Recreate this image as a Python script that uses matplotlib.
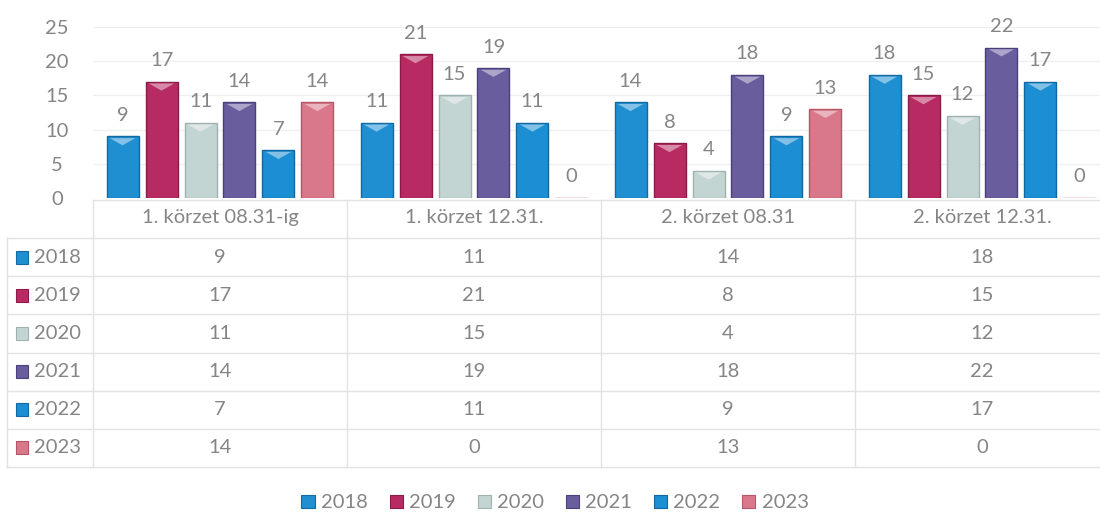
import matplotlib
matplotlib.use("Agg")
import matplotlib.pyplot as plt
import numpy as np
from matplotlib.patches import Rectangle, Polygon

plt.rcParams['font.family'] = ['Lato', 'DejaVu Sans']

categories = ['1. körzet 08.31-ig', '1. körzet 12.31.', '2. körzet 08.31', '2. körzet 12.31.']
years = ['2018', '2019', '2020', '2021', '2022', '2023']
v2018 = [9, 11, 14, 18]
v2019 = [17, 21, 8, 15]
v2020 = [11, 15, 4, 12]
v2021 = [14, 19, 18, 22]
v2022 = [7, 11, 9, 17]
v2023 = [14, 0, 13, 0]
series = [v2018, v2019, v2020, v2021, v2022, v2023]
colors = ['#1f8fd2', '#b82a62', '#c3d5d2', '#6a5d9e', '#1c8ed3', '#d9788a']
edges = ['#136aa0', '#8c1b47', '#9fb2b0', '#4b3f7c', '#1167a0', '#b55565']

TXT = '#858585'
LINE = '#e2e2e2'
FS = 14.5

fig = plt.figure(figsize=(11, 5.12), dpi=100)
W, H = 1100, 512

def fx(px):
    return px / W

def fy(px):
    return 1 - px / H

# bar chart area
ax = fig.add_axes([fx(93), fy(198), fx(1109 - 93), (198 - 27) / H])
x = np.arange(len(categories))
step = 0.1535
bw = 0.126
for i, (vals, c, e) in enumerate(zip(series, colors, edges)):
    pos = x + (i - 2.5) * step
    bars = ax.bar(pos, vals, width=bw, color=c, edgecolor=e, linewidth=1.0, zorder=3)
    for b, v in zip(bars, vals):
        # light "v" highlight at the top of each bar
        if v > 0:
            x0 = b.get_x()
            ax.add_patch(Polygon([(x0 + bw * 0.1, v - 0.25), (x0 + bw * 0.9, v - 0.25),
                                  (x0 + bw * 0.5, v - 1.3)],
                                 closed=True, color='white', alpha=0.45, lw=0, zorder=4))
        ax.annotate(str(v), (b.get_x() + bw / 2, v), xytext=(0, 9), textcoords='offset points',
                    ha='center', va='bottom', fontsize=FS, color=TXT)

ax.set_xlim(-0.5, len(categories) - 0.5)
ax.set_ylim(0, 25)
ax.set_yticks(range(0, 26, 5))
ax.tick_params(axis='y', length=0, labelsize=FS, labelcolor=TXT, pad=26)
for t in ax.get_yticklabels():
    t.set_horizontalalignment('center')
ax.set_xticks([])
ax.yaxis.grid(True, color='#f0f0f0', lw=1, zorder=0)
for s in ax.spines.values():
    s.set_visible(False)

# data table under the chart
tab = fig.add_axes([fx(93), fy(467), fx(1109 - 93), (467 - 200) / H])
nrows = len(years) + 1
tab.set_xlim(-0.5, len(categories) - 0.5)
tab.set_ylim(nrows, 0)
tab.axis('off')
left = -0.5 - (93 - 7) / 254

for k in range(len(categories) + 1):
    tab.plot([k - 0.5, k - 0.5], [0, nrows], color=LINE, lw=1, clip_on=False)
tab.plot([left, left], [1, nrows], color=LINE, lw=1, clip_on=False)
tab.plot([-0.5, len(categories) - 0.5], [0, 0], color=LINE, lw=1, clip_on=False)
for r in range(1, nrows + 1):
    tab.plot([left, len(categories) - 0.5], [r, r], color=LINE, lw=1, clip_on=False)

for j, cat in enumerate(categories):
    tab.text(j, 0.45, cat, ha='center', va='center', fontsize=FS, color=TXT)

for r, (yr, vals, c, e) in enumerate(zip(years, series, colors, edges)):
    yc = r + 1.5
    tab.add_patch(Rectangle((left + 0.035, yc - 0.17), 0.046, 0.34, facecolor=c, edgecolor=e,
                            lw=0.8, clip_on=False))
    tab.text(left + 0.105, yc, yr, ha='left', va='center', fontsize=FS, color=TXT)
    for j, v in enumerate(vals):
        tab.text(j, yc, str(v), ha='center', va='center', fontsize=FS, color=TXT)

# legend
handles = [Rectangle((0, 0), 1, 1, facecolor=c, edgecolor=e, lw=0.8) for c, e in zip(colors, edges)]
fig.legend(handles, years, loc='center', bbox_to_anchor=(fx(555), fy(503)), ncol=6,
           frameon=False, fontsize=FS, labelcolor=TXT, handlelength=0.65, handleheight=0.65,
           handletextpad=0.3, columnspacing=1.1)

fig.savefig('out.png', dpi=100, facecolor='white')
